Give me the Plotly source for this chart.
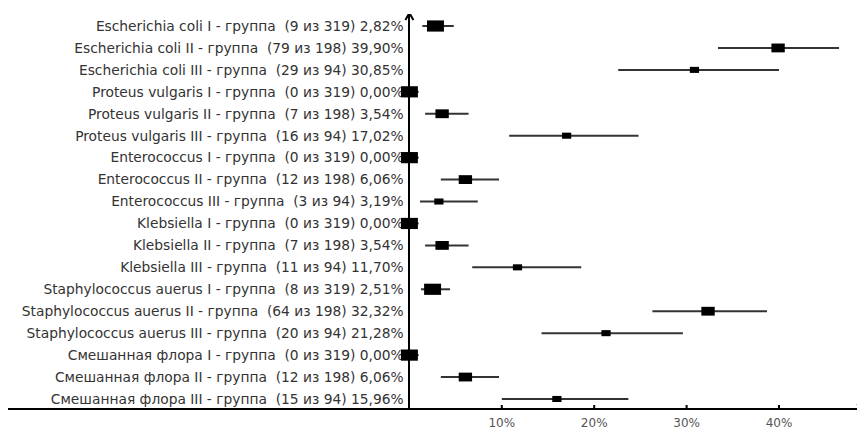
import math
import plotly.graph_objects as go

# ---------------- data ----------------
organisms = ["Escherichia coli", "Proteus vulgaris", "Enterococcus",
             "Klebsiella", "Staphylococcus auerus", "Смешанная флора"]
groups = ["I", "II", "III"]
group_totals = [319, 198, 94]

cases = [9, 79, 29,
         0, 7, 16,
         0, 12, 3,
         0, 7, 11,
         8, 64, 20,
         0, 12, 15]
percent = [2.82, 39.90, 30.85,
           0.00, 3.54, 17.02,
           0.00, 6.06, 3.19,
           0.00, 3.54, 11.70,
           2.51, 32.32, 21.28,
           0.00, 6.06, 15.96]
ci_low = [1.4, 33.4, 22.6,
          0.0, 1.7, 10.8,
          0.0, 3.4, 1.15,
          0.0, 1.7, 6.8,
          1.25, 26.3, 14.3,
          0.0, 3.4, 10.0]
ci_high = [4.8, 46.5, 40.0,
           1.0, 6.4, 24.8,
           1.0, 9.7, 7.4,
           1.0, 6.4, 18.6,
           4.4, 38.7, 29.6,
           1.0, 9.7, 23.7]
tick_values = [10, 20, 30, 40]
tick_labels = ["10%", "20%", "30%", "40%"]

# ---------------- derived ----------------
labels, totals = [], []
idx = 0
for org in organisms:
    for g, n in zip(groups, group_totals):
        pct_txt = f"{percent[idx]:.2f}".replace(".", ",")
        labels.append(f"{org} {g} - группа\u00a0 ({cases[idx]} из {n}) {pct_txt}%")
        totals.append(n)
        idx += 1
rows = list(range(len(labels)))

# ---------------- geometry ----------------
OFF = 8                      # default page margin around the figure
W, H = 865 - OFF, 430 - OFF
left_px, right_px = 8 - OFF, 864 - OFF
ML, MR = left_px, W - right_px
zero_px, px_per_unit = 409.4 - OFF, 9.24
x_min = -(zero_px - ML) / px_per_unit
x_max = (W - MR - zero_px) / px_per_unit
row0_px, row_step = 26.0 - OFF, 21.94
top_px, bottom_px = 14.0 - OFF, 408.0 - OFF
y_top = (top_px - row0_px) / row_step
y_bottom = (bottom_px - row0_px) / row_step

fig = go.Figure()

# CI lines
xs, ys = [], []
for r, lo, hi in zip(rows, ci_low, ci_high):
    xs += [lo, hi, None]
    ys += [r, r, None]
fig.add_trace(go.Scatter(x=xs, y=ys, mode="lines",
                         line=dict(color="#333333", width=2),
                         hoverinfo="skip", showlegend=False))
# hover points
fig.add_trace(go.Scatter(x=percent, y=rows, mode="markers",
                         marker=dict(size=1, color="rgba(0,0,0,0)"),
                         text=labels, hoverinfo="text", showlegend=False))

shapes = []
# point-estimate rectangles, sized by group size
for r, p, n in zip(rows, percent, totals):
    w = math.sqrt(n) * 0.95
    h = w * 0.66
    shapes.append(dict(type="rect", xref="x", yref="y",
                       xsizemode="pixel", ysizemode="pixel",
                       xanchor=p, yanchor=r,
                       x0=-w / 2, x1=w / 2, y0=-h / 2, y1=h / 2,
                       fillcolor="black", line=dict(width=0), layer="above"))
# tick marks crossing the x axis
for tv in tick_values:
    shapes.append(dict(type="line", xref="x", yref="y",
                       ysizemode="pixel", yanchor=y_bottom,
                       x0=tv, x1=tv, y0=-5, y1=3,
                       line=dict(color="black", width=2), layer="above"))
# arrow heads
shapes.append(dict(type="path", xref="x", yref="y",
                   xsizemode="pixel", ysizemode="pixel",
                   xanchor=0, yanchor=y_top,
                   path="M -4,-6 L 0,1 L 4,-6",
                   line=dict(color="black", width=2), layer="above"))
shapes.append(dict(type="path", xref="x", yref="y",
                   xsizemode="pixel", ysizemode="pixel",
                   xanchor=x_max, yanchor=y_bottom,
                   path="M -7,4 L 0,0 L -7,-4",
                   line=dict(color="black", width=2), layer="above"))

fig.update_layout(
    width=W, height=H,
    margin=dict(l=ML, r=MR, t=0, b=0, autoexpand=False),
    paper_bgcolor="white", plot_bgcolor="white",
    showlegend=False,
    shapes=shapes,
    xaxis=dict(range=[x_min, x_max], showgrid=False, zeroline=False,
               anchor="y", showline=True, linecolor="black", linewidth=2,
               ticks="", tickvals=tick_values, ticktext=tick_labels,
               tickfont=dict(family="DejaVu Sans", size=12, color="#555555"),
               ticklabelstandoff=3, fixedrange=True, automargin=False),
    yaxis=dict(range=[y_bottom, y_top], showgrid=False, zeroline=False,
               domain=[(H - bottom_px) / H, (H - top_px) / H],
               anchor="free", position=(zero_px - ML) / (W - ML - MR),
               showline=True, linecolor="black", linewidth=2,
               ticks="", tickvals=rows, ticktext=labels,
               tickfont=dict(family="DejaVu Sans", size=13.8, color="#333333"),
               ticklabelstandoff=2, fixedrange=True, automargin=False),
)

fig.write_html("out.html")
